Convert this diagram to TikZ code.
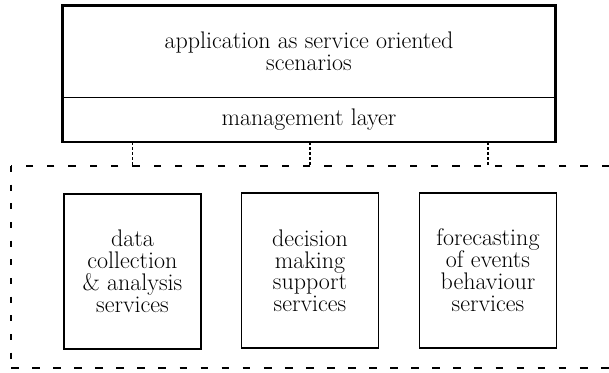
\documentclass[tikz,border=0pt]{standalone}
\begin{document}
\tikzset{every picture/.style={line width=0.75pt}}

\begin{tikzpicture}[x=0.75pt,y=0.75pt,yscale=-1,xscale=1,
  txt/.style={inner sep=0.75pt, align=center, font=\fontsize{18}{16.4}\selectfont},
  service/.style={txt, draw, line width=1.3pt, minimum width=102.75pt, minimum height=116.25pt},
  link/.style={line width=1.3pt, dash pattern={on 2.2pt off 1.6pt}}]
\useasboundingbox (0,0) rectangle (609,372);

% Top layer
\node (app) at (309,51.5) [txt, minimum width=369pt, minimum height=68.25pt] {application as service oriented\\scenarios};
\node (mgmt) at (309,119.35) [txt, minimum width=369pt, minimum height=33.5pt] {management layer};
\draw [line width=1.6] (app.north west) rectangle (mgmt.south east);
\draw [line width=0.9] (app.south west) -- (app.south east);

% Services
\node (data) at (132.5,271.5) [service] {data\\collection\\\& analysis\\services};
\node (decision) at (310,270.8) [service] {decision\\making\\support\\services};
\node (forecast) at (488,270.3) [service] {forecasting\\of events\\behaviour\\services};

% Dashed region
\coordinate (regNE) at (609,166);
\coordinate (regNW) at (11,166);
\coordinate (regSW) at (11,368.3);
\coordinate (regSE) at (609,368.3);
\draw [line width=0.9, dash pattern={on 5.5pt off 10.5pt}] (regNE) -- (regNW);
\draw [line width=0.9, dash pattern={on 4.5pt off 9.5pt}] (regNW) -- (regSW);
\draw [line width=1.6, dash pattern={on 5.8pt off 10pt}] (regSW) -- (regSE);

% Links
\foreach \s in {data,decision,forecast}
  \draw [link] (\s |- mgmt.south) -- (\s |- regNW);

\end{tikzpicture}
\end{document}
